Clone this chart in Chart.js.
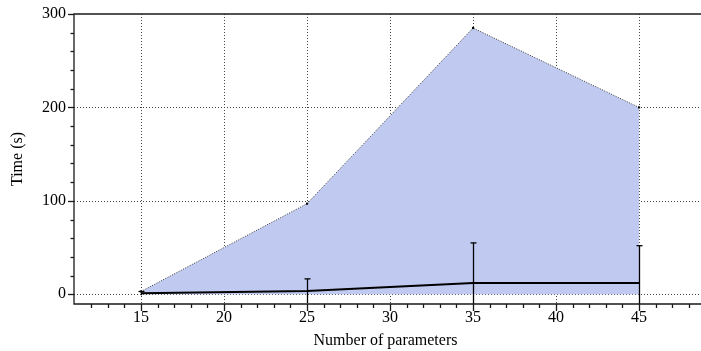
<!DOCTYPE html>
<html><head><meta charset="utf-8">
<script src="https://cdn.jsdelivr.net/npm/chart.js@4/dist/chart.umd.min.js"></script>
<style>html,body{margin:0;padding:0;background:#fff}#wrap{width:701px;height:351px}</style>
</head><body><div id="wrap"><canvas id="c" width="701" height="351"></canvas></div>
<script>
const params = [15, 25, 35, 45];
const maxTime = [3, 97, 285, 200];
const meanTime = [1, 3.5, 12, 12];
const errTime = [2, 13, 43, 40];
const xTickLabels = [15, 20, 25, 30, 35, 40, 45];
const yTickLabels = [0, 100, 200, 300];
const xMinorTicks = [12, 13, 14, 16, 17, 18, 19, 21, 22, 23, 24, 26, 27, 28, 29, 31, 32, 33, 34, 36, 37, 38, 39, 41, 42, 43, 44, 46, 47, 48];
const yMinorTicks = [20, 40, 60, 80, 120, 140, 160, 180, 220, 240, 260, 280];

const FONT = "'Liberation Serif', 'DejaVu Serif', serif";
const AX = '#1a1a1a';

const decor = {
  id: 'decor',
  beforeDatasetsDraw(chart) {
    const ctx = chart.ctx, a = chart.chartArea;
    const xs = chart.scales.x, ys = chart.scales.y;
    const R = chart.width;
    ctx.save();
    ctx.strokeStyle = '#444'; ctx.lineWidth = 1; ctx.setLineDash([1, 2]);
    xTickLabels.forEach(v => {
      const x = Math.round(xs.getPixelForValue(v)) + 0.5;
      ctx.beginPath(); ctx.moveTo(x, a.top); ctx.lineTo(x, a.bottom); ctx.stroke();
    });
    yTickLabels.filter(v => v < 300).forEach(v => {
      const y = Math.round(ys.getPixelForValue(v)) + 0.5;
      ctx.beginPath(); ctx.moveTo(a.left, y); ctx.lineTo(R, y); ctx.stroke();
    });
    ctx.restore();
  },
  afterDatasetsDraw(chart) {
    const ctx = chart.ctx, a = chart.chartArea;
    const xs = chart.scales.x, ys = chart.scales.y;
    const R = chart.width;
    ctx.save();
    ctx.beginPath(); ctx.rect(a.left, a.top, a.right - a.left, a.bottom - a.top); ctx.clip();
    ctx.strokeStyle = '#000'; ctx.lineWidth = 1.3;
    params.forEach((p, i) => {
      const x = Math.round(xs.getPixelForValue(p)) + 0.5;
      const yt = ys.getPixelForValue(meanTime[i] + errTime[i]);
      const yb = ys.getPixelForValue(meanTime[i] - errTime[i]);
      ctx.beginPath(); ctx.moveTo(x, yt); ctx.lineTo(x, yb); ctx.stroke();
      ctx.beginPath(); ctx.moveTo(x - 3, yt); ctx.lineTo(x + 3, yt); ctx.stroke();
    });
    ctx.restore();
    ctx.save();
    ctx.strokeStyle = AX; ctx.lineWidth = 1.3;
    ctx.beginPath();
    ctx.moveTo(R, a.top); ctx.lineTo(a.left, a.top); ctx.lineTo(a.left, a.bottom); ctx.lineTo(R, a.bottom);
    ctx.stroke();
    yTickLabels.concat(yMinorTicks).forEach(v => {
      const y = Math.round(ys.getPixelForValue(v)) + 0.5;
      const len = yTickLabels.includes(v) ? 6 : 3.5;
      ctx.beginPath(); ctx.moveTo(a.left - len, y); ctx.lineTo(a.left, y); ctx.stroke();
    });
    xTickLabels.concat(xMinorTicks).forEach(v => {
      const x = Math.round(xs.getPixelForValue(v)) + 0.5;
      const len = xTickLabels.includes(v) ? 7 : 4;
      ctx.beginPath(); ctx.moveTo(x, a.bottom); ctx.lineTo(x, a.bottom + len); ctx.stroke();
    });
    ctx.restore();
  }
};

new Chart(document.getElementById('c'), {
  type: 'line',
  data: {
    datasets: [
      {
        label: 'max',
        data: params.map((p, i) => ({x: p, y: maxTime[i]})),
        fill: 'origin',
        backgroundColor: 'rgb(192,202,240)',
        borderColor: '#333',
        borderWidth: 1,
        borderDash: [1, 1.5],
        pointStyle: 'rect',
        pointRadius: 1.5,
        pointBackgroundColor: '#000',
        pointBorderColor: '#000',
        pointBorderWidth: 0,
        tension: 0,
        order: 2
      },
      {
        label: 'mean',
        data: params.map((p, i) => ({x: p, y: meanTime[i]})),
        fill: false,
        borderColor: '#000',
        borderWidth: 2,
        pointRadius: 0,
        tension: 0,
        order: 1
      }
    ]
  },
  options: {
    responsive: false,
    animation: false,
    devicePixelRatio: 1,
    layout: {padding: {top: 14, right: 0, left: 0, bottom: 0}},
    plugins: {legend: {display: false}, tooltip: {enabled: false}},
    scales: {
      x: {
        type: 'linear', min: 10.96, max: 48.49,
        afterBuildTicks(s) { s.ticks = xTickLabels.map(v => ({value: v})); },
        afterFit(s) { s.height = 47; s.paddingLeft = 0; s.paddingRight = 0; },
        border: {display: false},
        grid: {display: false, drawTicks: false},
        ticks: {
          autoSkip: false, maxRotation: 0, padding: 4,
          color: '#000', font: {family: FONT, size: 16}
        },
        title: {display: true, text: 'Number of parameters', color: '#000', font: {family: FONT, size: 16}, padding: {top: 0, bottom: 1}}
      },
      y: {
        type: 'linear', min: -10.4, max: 300,
        afterBuildTicks(s) { s.ticks = yTickLabels.map(v => ({value: v})); },
        afterFit(s) { s.width = 74; s.paddingTop = 0; s.paddingBottom = 0; },
        border: {display: false},
        grid: {display: false, drawTicks: false},
        ticks: {
          autoSkip: false, padding: 8,
          color: '#000', font: {family: FONT, size: 16}
        },
        title: {display: true, text: 'Time (s)', color: '#000', font: {family: FONT, size: 16}, padding: {top: 8, bottom: 0}}
      }
    }
  },
  plugins: [decor]
});
</script></body></html>
